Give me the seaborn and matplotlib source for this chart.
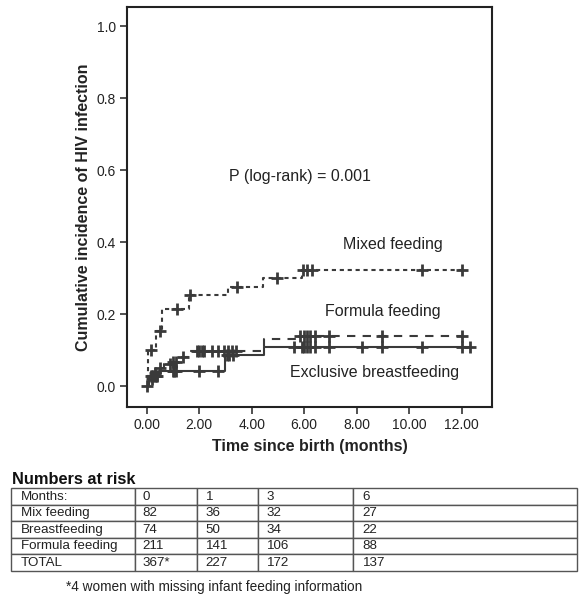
import numpy as np
import pandas as pd
import matplotlib
matplotlib.use("Agg")
import matplotlib.pyplot as plt
from matplotlib.ticker import FormatStrFormatter, MultipleLocator
import seaborn as sns

# ---------------- data ----------------
groups = ["Mixed feeding", "Formula feeding", "Exclusive breastfeeding"]

mixed_times = [0, 0.05, 0.37, 0.59, 1.62, 3.09, 4.42, 5.92]
mixed_cuminc = [0, 0.100, 0.152, 0.214, 0.253, 0.275, 0.300, 0.322]
mixed_censor = [0.0, 0.18, 0.52, 1.14, 1.64, 3.45, 4.98, 5.95, 6.1, 6.3, 10.48, 12.0]

formula_times = [0, 0.1, 0.25, 0.45, 0.65, 0.95, 1.35, 1.6, 4.48, 5.8]
formula_cuminc = [0, 0.020, 0.035, 0.050, 0.060, 0.068, 0.080, 0.098, 0.130, 0.139]
formula_censor = [0.2, 0.3, 0.5, 0.9, 1.0, 1.1, 1.4, 1.9, 2.0, 2.1, 2.2, 2.5, 2.7,
                  2.95, 3.1, 3.25, 3.4, 5.85, 6.0, 6.1, 6.2, 6.4, 6.95, 8.95, 12.0]

breast_times = [0, 0.1, 0.45, 3.0, 4.48]
breast_cuminc = [0, 0.027, 0.043, 0.086, 0.109]
breast_censor = [0.15, 0.2, 0.25, 0.3, 0.35, 0.4, 1.0, 1.05, 1.1, 2.0, 2.7, 3.05,
                 3.15, 3.3, 5.6, 5.9, 6.0, 6.1, 6.2, 6.4, 6.95, 8.2, 8.95, 10.48,
                 12.0, 12.32]

x_ticks = [0, 2, 4, 6, 8, 10, 12]
y_ticks = [0.0, 0.2, 0.4, 0.6, 0.8, 1.0]

p_text = "P (log-rank) = 0.001"

risk_header = ["Months:", "0", "1", "3", "6"]
risk_rows = ["Mix feeding", "Breastfeeding", "Formula feeding", "TOTAL"]
risk_m0 = ["82", "74", "211", "367*"]
risk_m1 = ["36", "50", "141", "227"]
risk_m3 = ["32", "34", "106", "172"]
risk_m6 = ["27", "22", "88", "137"]
footnote = "*4 women with missing infant feeding information"

# ---------------- build tables ----------------
curves = {
    "Mixed feeding": (mixed_times, mixed_cuminc, mixed_censor),
    "Formula feeding": (formula_times, formula_cuminc, formula_censor),
    "Exclusive breastfeeding": (breast_times, breast_cuminc, breast_censor),
}
line_rows, cens_rows = [], []
for g, (t, v, c) in curves.items():
    end = max(c)
    for ti, vi in zip(list(t) + [end], list(v) + [v[-1]]):
        line_rows.append({"group": g, "time": ti, "cuminc": vi})
    t_arr = np.asarray(t)
    for ci in c:
        idx = np.searchsorted(t_arr, ci, side="right") - 1
        cens_rows.append({"group": g, "time": ci, "cuminc": v[idx]})
line_df = pd.DataFrame(line_rows)
cens_df = pd.DataFrame(cens_rows)

# ---------------- style ----------------
sns.set_style("white")
plt.rcParams["font.family"] = ["Liberation Sans", "DejaVu Sans"]
ink = "#333333"

fig = plt.figure(figsize=(5.85, 6.0), dpi=100)
ax = fig.add_axes([127 / 585, 1 - 406.7 / 600, (492 - 127) / 585, (406.7 - 7.3) / 600])

palette = {g: "#3a3a3a" for g in groups}
dashes = {"Mixed feeding": (2.0, 1.8), "Formula feeding": (4.0, 3.5),
          "Exclusive breastfeeding": ""}
sns.lineplot(data=line_df, x="time", y="cuminc", hue="group", style="group",
             palette=palette, dashes=dashes, estimator=None, sort=False,
             drawstyle="steps-post", linewidth=1.5, legend=False, ax=ax)
sns.scatterplot(data=cens_df, x="time", y="cuminc", hue="group", palette=palette,
                marker="+", s=75, linewidth=2.0, legend=False, ax=ax, zorder=3)

ax.set_xlim(-0.75, 13.15)
ax.set_ylim(-0.0575, 1.052)
ax.set_xticks(x_ticks)
ax.set_yticks(y_ticks)
ax.xaxis.set_major_formatter(FormatStrFormatter("%.2f"))
ax.yaxis.set_major_formatter(FormatStrFormatter("%.1f"))
ax.tick_params(axis="both", which="major", direction="out", length=5, width=1.2,
               color=ink, labelsize=10, labelcolor="#222222", pad=3,
               left=True, bottom=True)
for s in ax.spines.values():
    s.set_visible(True)
    s.set_color("#222222")
    s.set_linewidth(1.5)

ax.set_xlabel("Time since birth (months)", fontsize=11.5, fontweight="bold",
              color="#222222", labelpad=5)
ax.set_ylabel("Cumulative incidence of HIV infection", fontsize=11.5,
              fontweight="bold", color="#222222", labelpad=4)

ax.text(5.84, 0.583, p_text, fontsize=11.5, ha="center", va="center", color="#222222")
ax.text(9.38, 0.392, "Mixed feeding", fontsize=11.5, ha="center", va="center", color="#222222")
ax.text(8.98, 0.206, "Formula feeding", fontsize=11.5, ha="center", va="center", color="#222222")
ax.text(8.67, 0.037, "Exclusive breastfeeding", fontsize=11.5, ha="center", va="center",
        color="#222222")

# ---------------- numbers at risk table ----------------
fig.text(11.7 / 585, 1 - 479 / 600, "Numbers at risk", fontsize=11.8, fontweight="bold",
         ha="left", va="center", color="#111111")

col_px = [124.3, 61.7, 61.6, 95.0, 223.4]
pad_px = [10.0, 7.7, 9.0, 8.5, 9.4]
tab_w = sum(col_px)
tab_ax = fig.add_axes([10.7 / 585, 1 - 571 / 600, tab_w / 585, (571 - 488.3) / 600])
tab_ax.axis("off")
cell_text = [risk_header] + [[r, a, b, c, d] for r, a, b, c, d in
                              zip(risk_rows, risk_m0, risk_m1, risk_m3, risk_m6)]
tbl = tab_ax.table(cellText=cell_text, colWidths=[w / tab_w for w in col_px],
                   cellLoc="left", bbox=[0, 0, 1, 1])
tbl.auto_set_font_size(False)
tbl.set_fontsize(9.6)
for (r, c), cell in tbl.get_celld().items():
    cell.set_edgecolor("#555555")
    cell.set_linewidth(1.0)
    cell.PAD = pad_px[c] / col_px[c]
    cell.get_text().set_color("#222222")

fig.text(66 / 585, 1 - 587 / 600, footnote, fontsize=9.8, ha="left", va="center",
         color="#222222")

fig.savefig("out.png", dpi=100)
